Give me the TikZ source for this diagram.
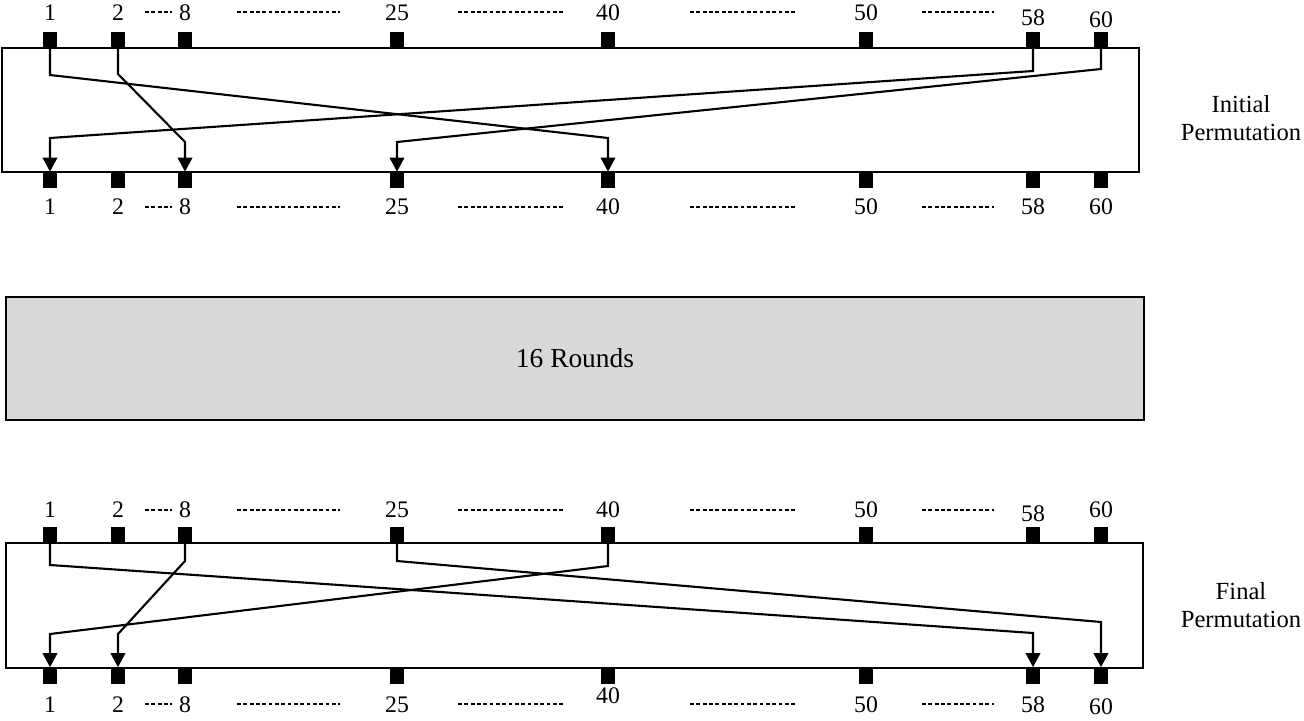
\documentclass[tikz,border=0pt]{standalone}
\usepackage{fontspec}
\setmainfont{Liberation Serif}
\usetikzlibrary{arrows.meta}
\definecolor{roundgray}{HTML}{D9D9D9}
\begin{document}
\begin{tikzpicture}[x=0.02cm,y=-0.02cm,
  pinbox/.style={fill=black,draw=none,inner sep=0pt,minimum width=0.29cm,minimum height=0.32cm},
  permbox/.style={draw=black,line width=1.2pt},
  wire/.style={line width=1.2pt,line join=miter,-{Triangle[width=0.29cm,length=0.28cm]}},
  numlbl/.style={font=\fontsize{13.5}{15}\selectfont,inner sep=0pt},
  sidelbl/.style={font=\fontsize{14}{16}\selectfont,align=center,inner sep=0pt},
  dotline/.style={line width=0.6pt,dash pattern=on 2.2pt off 1.4pt}]
\useasboundingbox (0,0) rectangle (1304,720);

% boxes
\draw[permbox] (2,48) rectangle (1139,172);
\node[draw=black,line width=1.2pt,fill=roundgray,minimum width=22.76cm,minimum height=2.46cm,inner sep=0pt,
  font=\fontsize{15.6}{18}\selectfont] (rounds) at (575,358.5) {16 Rounds};
\draw[permbox] (6,543) rectangle (1143,668);

% pins
\foreach \n/\x in {1/50,2/118,8/185,25/397,40/608,50/866,58/1033,60/1101}{
  \node[pinbox] (ta-\n) at (\x,40) {};
  \node[pinbox] (ba-\n) at (\x,180) {};
  \node[pinbox] (tb-\n) at (\x,535) {};
  \node[pinbox] (bb-\n) at (\x,675.5) {};
}

% labels
\foreach \n/\x/\ya/\yb/\yc/\yd in {1/50/13/207/510/705, 2/118/13/207/510/705, 8/185/13/207/510/705,
   25/397/13/207/510/705, 40/608/13/207/510/696, 50/866/13/207/510/705,
   58/1033/18/207/514/705, 60/1101/20/207/510/707}{
  \node[numlbl] (lta-\n) at (\x,\ya) {\n};
  \node[numlbl] (lba-\n) at (\x,\yb) {\n};
  \node[numlbl] (ltb-\n) at (\x,\yc) {\n};
  \node[numlbl] (lbb-\n) at (\x,\yd) {\n};
}

% dotted runs between labels
\foreach \y in {12,207,510,704}{
  \foreach \xa/\xb in {145/172,237/340,458/563,690/795,922/994}{
    \draw[dotline] (\xa,\y) -- (\xb,\y);
  }
}

% initial permutation wires
\draw[wire] (ta-1.south) -- (ta-1.south |- 0,75) -- (ba-40.north |- 0,138) -- (ba-40.north);
\draw[wire] (ta-2.south) -- (ta-2.south |- 0,74) -- (ba-8.north |- 0,142) -- (ba-8.north);
\draw[wire] (ta-58.south) -- (ta-58.south |- 0,71) -- (ba-1.north |- 0,138) -- (ba-1.north);
\draw[wire] (ta-60.south) -- (ta-60.south |- 0,69) -- (ba-25.north |- 0,142) -- (ba-25.north);

% final permutation wires
\draw[wire] (tb-1.south) -- (tb-1.south |- 0,565) -- (bb-58.north |- 0,633) -- (bb-58.north);
\draw[wire] (tb-25.south) -- (tb-25.south |- 0,561) -- (bb-60.north |- 0,622) -- (bb-60.north);
\draw[wire] (tb-8.south) -- (tb-8.south |- 0,561) -- (bb-2.north |- 0,634) -- (bb-2.north);
\draw[wire] (tb-40.south) -- (tb-40.south |- 0,566) -- (bb-1.north |- 0,634) -- (bb-1.north);

% side labels
\node[sidelbl] (initlbl) at (1241,118) {Initial\\Permutation};
\node[sidelbl] (finallbl) at (1241,605) {Final\\Permutation};
\end{tikzpicture}
\end{document}
